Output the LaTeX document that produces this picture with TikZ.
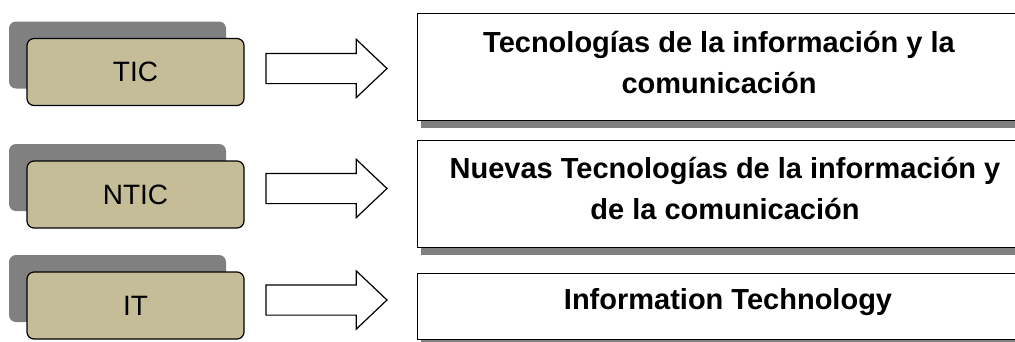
\documentclass[tikz,border=0pt]{standalone}
\usepackage{fontspec}
\setmainfont{Liberation Sans}
\usetikzlibrary{shapes.arrows, shadows, positioning}
\definecolor{caqui}{HTML}{C4BD97}
\definecolor{sombra}{HTML}{808080}

\begin{document}
\begin{tikzpicture}[x=1pt, y=-1pt, line join=miter,
  sigla/.style={draw=black, line width=1.2pt, fill=caqui, rounded corners=7pt,
    minimum width=217pt, minimum height=67pt, inner sep=0pt,
    font=\fontsize{28}{28}\selectfont,
    general shadow={fill=sombra, shadow xshift=-18pt, shadow yshift=17pt}},
  definicion/.style={draw=black, line width=1.2pt, fill=white, anchor=north west,
    minimum width=640pt, inner sep=0pt,
    general shadow={fill=sombra, shadow xshift=3pt, shadow yshift=-7pt}},
  texto/.style={align=center, anchor=base, inner sep=0pt,
    font=\bfseries\fontsize{29}{41}\selectfont},
  flecha/.style={single arrow, draw=black, line width=1.2pt, fill=white,
    minimum height=121pt, inner xsep=0pt, inner ysep=14.5pt,
    single arrow head extend=14pt, single arrow head indent=0pt,
    single arrow tip angle=87}]

% marco
\useasboundingbox (0,0) rectangle (1015,341);
\clip (0,0) rectangle (1015,341);

% --- siglas ---
\node[sigla] (tic)  at (135.5,72)  {TIC};
\node[sigla] (ntic) at (135.5,194.5) {NTIC};
\node[sigla] (it)   at (135.5,305.5) {IT};

% --- flechas ---
\node[flecha] (f1) at (318.5,68.5) {};
\node[flecha] (f2) at (318.5,188.5) {};
\node[flecha] (f3) at (318.5,300) {};

% --- definiciones ---
\node[definicion, minimum height=107pt] (d1) at (417,13) {};
\node[definicion, minimum height=107pt] (d2) at (417,140) {};
\node[definicion, minimum height=66pt]  (d3) at (417,273) {};

% texto (base = ultima linea)
\node[texto] (t1) at (719,93) {Tecnologías de la información y la\\comunicación};
\node[texto] (t2) at (725,219) {Nuevas Tecnologías de la información y\\de la comunicación};
\node[texto] (t3) at (728,309) {Information Technology};

\end{tikzpicture}
\end{document}
